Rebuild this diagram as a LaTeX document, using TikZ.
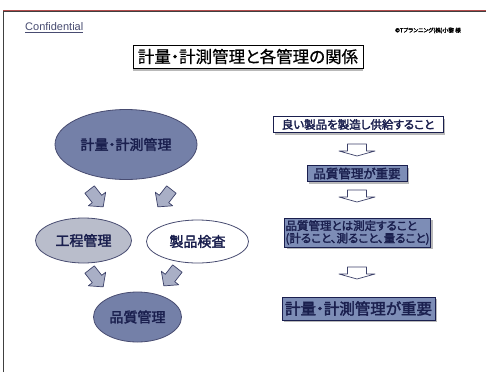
\documentclass[tikz,border=0pt]{standalone}
\usepackage{fontspec}
\setmainfont{Liberation Sans}
\newfontfamily\jp{Noto Sans CJK JP}[RawFeature=+palt,FakeBold=0.6]
\newfontfamily\jpb{Noto Sans CJK JP}[RawFeature=+palt,FakeBold=2.2]
\usetikzlibrary{shapes.geometric,shadows}
\definecolor{navy}{HTML}{1A1F4E}
\definecolor{slate}{HTML}{7480A8}
\definecolor{lightslate}{HTML}{B9BDCB}
\definecolor{boxblue}{HTML}{7D8DB6}
\definecolor{arrowfill}{HTML}{A9AFC6}
\tikzset{
  ell/.style={ellipse, draw=navy!80, line width=0.8pt, inner sep=0pt, text=navy, font=\jpb\fontsize{14}{16}\selectfont},
  sbox/.style={draw=navy, line width=0.8pt, inner sep=1pt, text=navy,
     drop shadow={shadow xshift=2.2pt, shadow yshift=-2.2pt, fill=gray!55, opacity=1}},
  diagarrow/.pic={
     \path[fill=arrowfill, draw=navy!85, line width=0.7pt, line join=round]
       (-6,-12) -- (6,-12) -- (6,0) -- (11,0) -- (0,10) -- (-11,0) -- (-6,0) -- cycle;
  },
  downblk/.pic={
     \path[fill=white, draw=navy!85, line width=0.7pt, line join=round]
       (-9.5,0) -- (9.5,0) -- (9.5,7) -- (18,7) -- (0,12) -- (-18,7) -- (-9.5,7) -- cycle;
  }
}
\begin{document}
\begin{tikzpicture}[x=1pt,y=-1pt]
\useasboundingbox (0,0) rectangle (486,372);
\fill[white] (0,0) rectangle (486,372);
% page frame
\draw[red!40!gray, line width=0.6pt] (3,10) -- (486,10);
\draw[black!75, line width=1pt] (3,372) -- (3,11.5) -- (486,11.5);
% header
\node[anchor=west, inner sep=0pt, text=navy!80, font=\fontsize{11}{12}\selectfont] (conf) at (25,27.5) {\underline{Confidential}};
\node[anchor=east, inner sep=0pt, text=black, font=\jpb\fontsize{5.6}{7}\selectfont] (copy) at (461,30.5) {©Tプランニング(株)小黎 様};
% title
\node[draw=black, line width=0.9pt, minimum width=230, minimum height=23, inner sep=0pt, fill=white,
      drop shadow={shadow xshift=0pt, shadow yshift=-2.5pt, fill=gray!55, opacity=1},
      font=\jp\fontsize{16.5}{18}\selectfont] (title) at (248,56.5) {計量・計測管理と各管理の関係};
% left ellipses
\node[ell, fill=slate, minimum width=142, minimum height=70] (keiryo) at (126,144.5) {計量・計測管理};
\node[ell, fill=lightslate, minimum width=96, minimum height=45] (kotei) at (83.5,240.5) {工程管理};
\node[ell, fill=white, minimum width=102, minimum height=43] (seihin) at (197.5,241.5) {製品検査};
\node[ell, fill=slate, minimum width=88, minimum height=50] (hinshitsu) at (137.5,317) {品質管理};
% diagonal block arrows
\coordinate (d1) at (97,199);
\coordinate (d2) at (164,199);
\coordinate (d3) at (97,279);
\coordinate (d4) at (170,278);
\path (d1) pic[rotate=38] {diagarrow};
\path (d2) pic[rotate=-38] {diagarrow};
\path (d3) pic[rotate=38] {diagarrow};
\path (d4) pic[rotate=-38] {diagarrow};
% right column
\node[sbox, fill=white, minimum width=170, minimum height=16, font=\jpb\fontsize{11.5}{13}\selectfont] (b1) at (358,124.5) {良い製品を製造し供給すること};
\node[sbox, fill=boxblue, minimum width=100, minimum height=16, font=\jpb\fontsize{12.5}{13}\selectfont] (b2) at (357,173.5) {品質管理が重要};
\node[sbox, fill=boxblue, minimum width=145, minimum height=29, align=left, font=\jpb\fontsize{11.5}{12.5}\selectfont] (b3) at (357.5,232.5) {品質管理とは測定すること\\(計ること、測ること、量ること)};
\node[sbox, fill=boxblue, minimum width=153, minimum height=23, font=\jpb\fontsize{15.5}{17}\selectfont] (b4) at (358.5,308.5) {計量・計測管理が重要};
\coordinate (a1) at (357,144);
\coordinate (a2) at (357,190);
\coordinate (a3) at (357,267);
\path (a1) pic {downblk};
\path (a2) pic {downblk};
\path (a3) pic {downblk};
\end{tikzpicture}
\end{document}
